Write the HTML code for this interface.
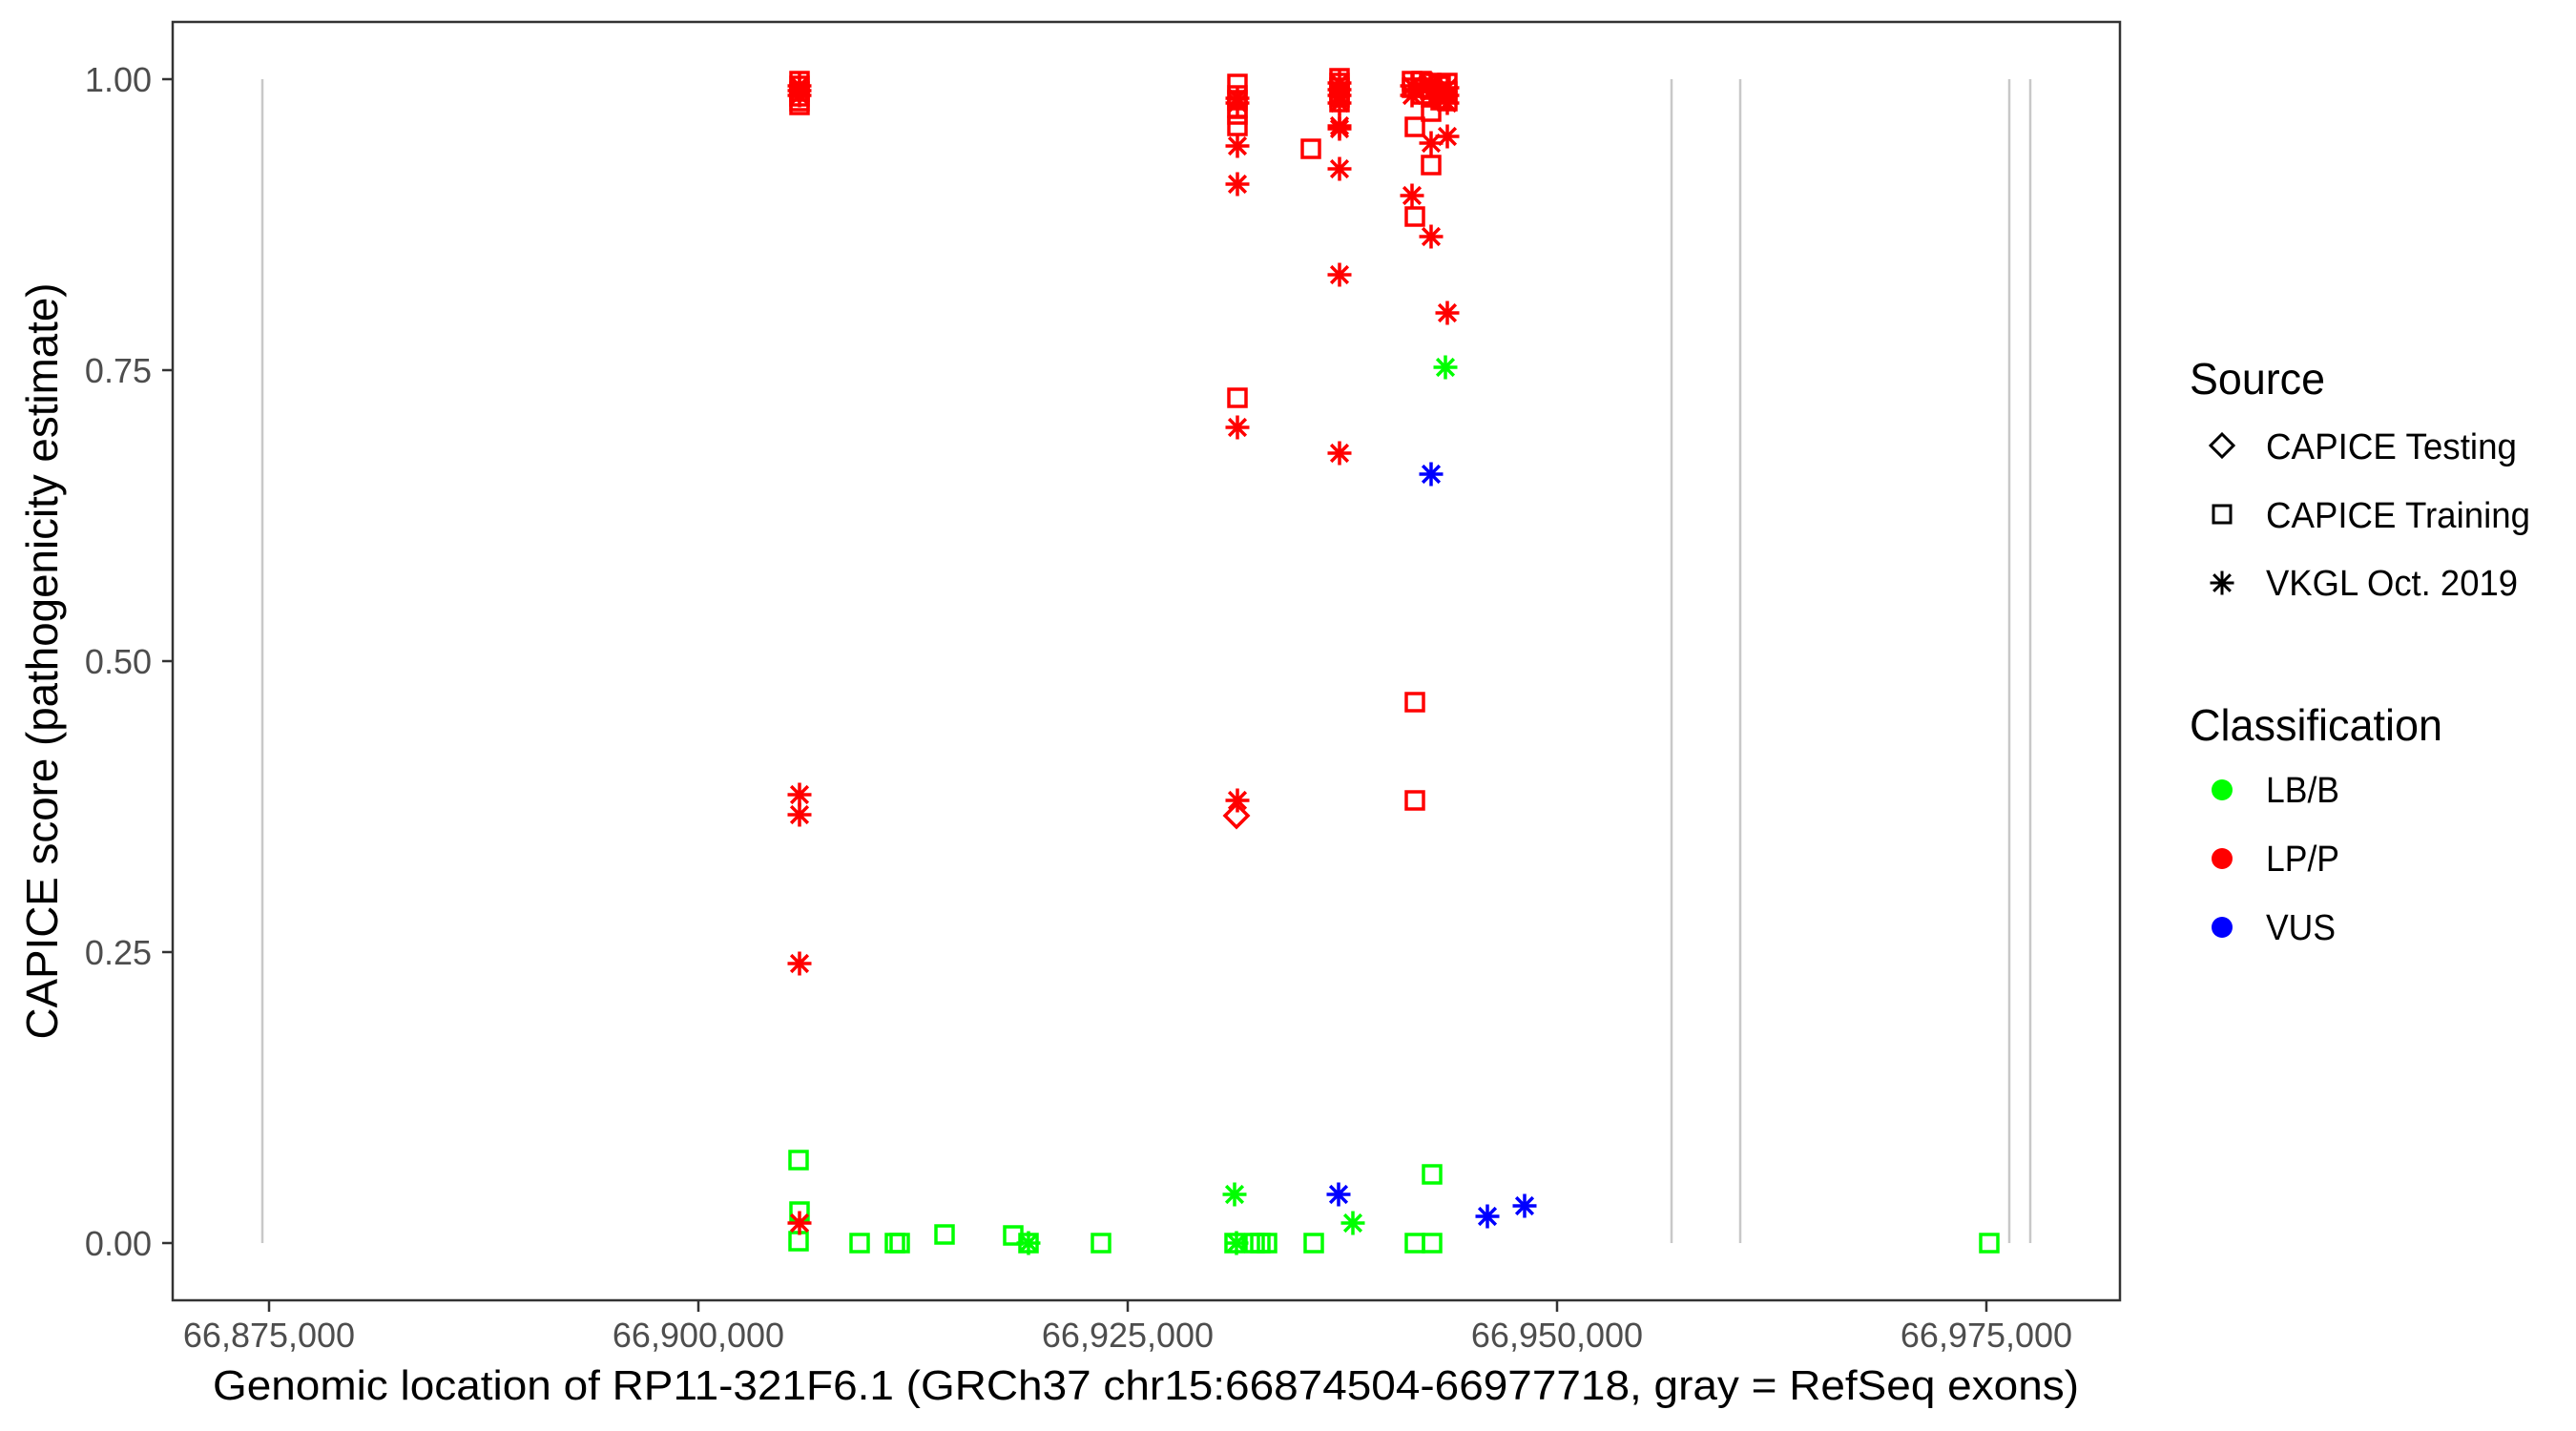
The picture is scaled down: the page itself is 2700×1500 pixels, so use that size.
<!DOCTYPE html>
<html><head><meta charset="utf-8"><style>
html,body{margin:0;padding:0;background:#fff;}
svg{display:block;font-family:"Liberation Sans",Arial,sans-serif;}
</style></head><body>
<svg id="s" xmlns="http://www.w3.org/2000/svg" width="2700" height="1500" viewBox="0 0 2700 1500">
<rect width="2700" height="1500" fill="#fff"/>
<g stroke="#c8c8c8" stroke-width="2.5">
<line x1="275" y1="83" x2="275" y2="1303"/>
<line x1="1752" y1="83" x2="1752" y2="1303"/>
<line x1="1824" y1="83" x2="1824" y2="1303"/>
<line x1="2106" y1="83" x2="2106" y2="1303"/>
<line x1="2128" y1="83" x2="2128" y2="1303"/>
</g>
<g id="pts"></g>
<rect x="181" y="23" width="2041" height="1340" fill="none" stroke="#333" stroke-width="2.5"/>
<g stroke="#333" stroke-width="2.5">
<line x1="170" y1="83" x2="181" y2="83"/>
<line x1="170" y1="388" x2="181" y2="388"/>
<line x1="170" y1="693" x2="181" y2="693"/>
<line x1="170" y1="998" x2="181" y2="998"/>
<line x1="170" y1="1303" x2="181" y2="1303"/>
<line x1="282" y1="1363" x2="282" y2="1375"/>
<line x1="732" y1="1363" x2="732" y2="1375"/>
<line x1="1182" y1="1363" x2="1182" y2="1375"/>
<line x1="1632" y1="1363" x2="1632" y2="1375"/>
<line x1="2082" y1="1363" x2="2082" y2="1375"/>
</g>
<g fill="#4d4d4d" font-size="36" text-anchor="end">
<text x="159" y="96">1.00</text>
<text x="159" y="401">0.75</text>
<text x="159" y="706">0.50</text>
<text x="159" y="1011">0.25</text>
<text x="159" y="1316">0.00</text>
</g>
<g fill="#4d4d4d" font-size="36" text-anchor="middle">
<text x="282" y="1412">66,875,000</text>
<text x="732" y="1412">66,900,000</text>
<text x="1182" y="1412">66,925,000</text>
<text x="1632" y="1412">66,950,000</text>
<text x="2082" y="1412">66,975,000</text>
</g>
<text x="1201" y="1467" font-size="44" text-anchor="middle" textLength="1956" lengthAdjust="spacingAndGlyphs">Genomic location of RP11-321F6.1 (GRCh37 chr15:66874504-66977718, gray = RefSeq exons)</text>
<text transform="translate(60,693) rotate(-90)" font-size="46" text-anchor="middle" textLength="793" lengthAdjust="spacingAndGlyphs">CAPICE score (pathogenicity estimate)</text>
<text x="2295" y="413" font-size="46" textLength="142" lengthAdjust="spacingAndGlyphs">Source</text>
<g font-size="38">
<text x="2375" y="481" textLength="263" lengthAdjust="spacingAndGlyphs">CAPICE Testing</text>
<text x="2375" y="553" textLength="277" lengthAdjust="spacingAndGlyphs">CAPICE Training</text>
<text x="2375" y="624" textLength="264" lengthAdjust="spacingAndGlyphs">VKGL Oct. 2019</text>
<text x="2375" y="841" textLength="77" lengthAdjust="spacingAndGlyphs">LB/B</text>
<text x="2375" y="913" textLength="77" lengthAdjust="spacingAndGlyphs">LP/P</text>
<text x="2375" y="985" textLength="73" lengthAdjust="spacingAndGlyphs">VUS</text>
</g>
<text x="2295" y="776" font-size="46" textLength="265" lengthAdjust="spacingAndGlyphs">Classification</text>
<circle cx="2329" cy="828" r="11" fill="#00ff00"/>
<circle cx="2329" cy="900" r="11" fill="#ff0000"/>
<circle cx="2329" cy="972" r="11" fill="#0000ff"/>
<g id="leg"></g>
</svg>
<script>
var NS="http://www.w3.org/2000/svg";
function el(p,n,a){var e=document.createElementNS(NS,n);for(var k in a)e.setAttribute(k,a[k]);p.appendChild(e);return e;}
function mk(p,t,x,y,c,sw){
 sw=sw||3.5;
 if(t=='s')el(p,'rect',{x:x-9,y:y-9,width:18,height:18,fill:'none',stroke:c,'stroke-width':sw});
 else if(t=='d')el(p,'polygon',{points:(x)+','+(y-12)+' '+(x+12)+','+y+' '+x+','+(y+12)+' '+(x-12)+','+y,fill:'none',stroke:c,'stroke-width':sw});
 else{var r=12.5,d=r*0.7071;
  el(p,'path',{d:'M'+(x-r)+' '+y+'H'+(x+r)+'M'+x+' '+(y-r)+'V'+(y+r)+'M'+(x-d)+' '+(y-d)+'L'+(x+d)+' '+(y+d)+'M'+(x-d)+' '+(y+d)+'L'+(x+d)+' '+(y-d),stroke:c,'stroke-width':sw,fill:'none'});}
}
var g=document.getElementById('pts');
var G='#00ff00',R='#ff0000',B='#0000ff';
var gs=[[837,1216],[838,1270],[837,1301],[901,1303],[938,1303],[943,1303],[990,1294],[1062,1295],[1078,1303],[1154,1303],[1294,1303],[1315,1303],[1321,1303],[1328,1303],[1377,1303],[1483,1303],[1501,1303],[1501,1231],[2085,1303]];
gs.forEach(function(p){mk(g,'s',p[0],p[1],G);});
[[1078,1303],[1294,1252],[1296,1303],[1418,1282],[1515,385]].forEach(function(p){mk(g,'a',p[0],p[1],G);});
var rs=[[838,[85,90,96,101,106,110]],[1297,[88,100,105,113,120,132,417]],[1374,[156]],[1404,[82,87,92,97,102,107]],[1480,[85,92]],[1483,[133,227,736,839]],[1490,[85,92,99]],[1500,[87,94,102,117,173]],[1510,[90,97,105]],[1517,[87,96,106]]];
rs.forEach(function(c){c[1].forEach(function(y){mk(g,'s',c[0],y,R);});});
var ra=[[838,[90,95,100,833,854,1010,1282]],[1297,[103,108,153,193,448,839]],[1404,[87,94,100,108,132,135,177,288,475]],[1480,[90,100,205]],[1490,[92]],[1500,[88,96,150,248]],[1510,[94]],[1517,[92,100,108,143,328]]];
ra.forEach(function(c){c[1].forEach(function(y){mk(g,'a',c[0],y,R);});});
mk(g,'d',1296,855,R);
[[1403,1252],[1500,497],[1559,1275],[1598,1264]].forEach(function(p){mk(g,'a',p[0],p[1],B);});
var l=document.getElementById('leg');
mk(l,'d',2329,467,'#000',3);mk(l,'s',2329,539,'#000',3);mk(l,'a',2329,611,'#000',3);
</script>
</body></html>
